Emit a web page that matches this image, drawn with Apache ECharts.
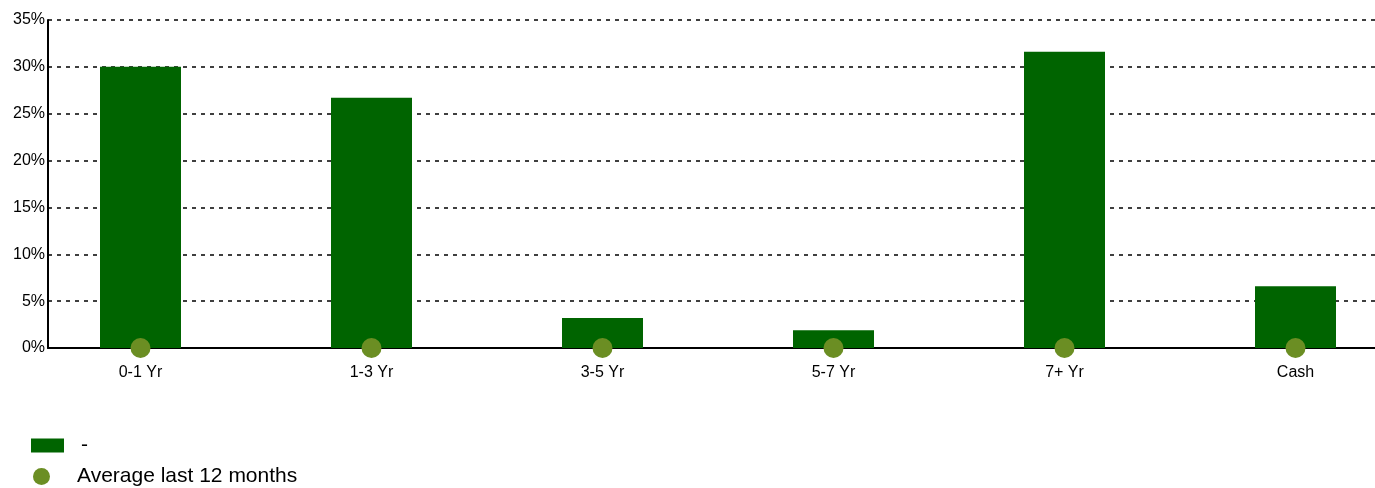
<!DOCTYPE html>
<html>
<head>
<meta charset="utf-8">
<script src="https://cdn.jsdelivr.net/npm/echarts@6/dist/echarts.min.js"></script>
<style>
  html, body { margin: 0; padding: 0; background: #fff; }
  #chart { width: 1375px; height: 488px; }
</style>
</head>
<body>
<div id="chart"></div>
<script>
const categories = ['0-1 Yr', '1-3 Yr', '3-5 Yr', '5-7 Yr', '7+ Yr', 'Cash']
const barValues = [30.0, 26.7, 3.2, 1.9, 31.6, 6.6]
const avgValues = [0, 0, 0, 0, 0, 0]
const barName = '-'
const avgName = 'Average last 12 months'

const chart = echarts.init(document.getElementById('chart'))

const option = {
  animation: false,
  textStyle: { fontFamily: 'Liberation Sans, Arial, sans-serif' },
  // two legends so each row can have its own icon size
  legend: [
    {
      left: 26,
      top: 430,
      itemWidth: 33,
      itemHeight: 14,
      textStyle: { fontSize: 21, color: '#000', padding: [0, 0, 0, 12] },
      data: [{ name: barName, icon: 'rect' }]
    },
    {
      left: 28,
      top: 461,
      itemWidth: 17,
      itemHeight: 17,
      textStyle: { fontSize: 21, color: '#000', padding: [0, 0, 0, 22] },
      data: [{ name: avgName, icon: 'circle' }]
    }
  ],
  grid: [
    // axis frame: y labels, dashed lines, baseline
    { left: 48, right: 0, top: 20, bottom: 140 },
    // marks: categories spaced a bit wider than the frame
    { left: 25, width: 1386, top: 20, bottom: 140, outerBoundsMode: 'none' }
  ],
  xAxis: [
    {
      type: 'category',
      gridIndex: 0,
      data: [''],
      axisLine: { show: true, lineStyle: { color: '#000', width: 2 } },
      axisTick: { show: false },
      axisLabel: { show: false }
    },
    {
      type: 'category',
      gridIndex: 1,
      data: categories,
      axisLine: { show: false },
      axisTick: { show: false },
      axisLabel: { color: '#000', fontSize: 16, margin: 17 }
    }
  ],
  yAxis: [
    {
      type: 'value',
      gridIndex: 0,
      min: 0,
      max: 35,
      interval: 5,
      axisLine: { show: true, lineStyle: { color: '#000', width: 2 } },
      axisTick: { show: false },
      axisLabel: { color: '#000', fontSize: 16, margin: 3, formatter: '{value}%' },
      splitLine: {
        show: true,
        lineStyle: { color: '#000', width: 1.5, type: [4, 5] }
      }
    },
    {
      type: 'value',
      gridIndex: 1,
      min: 0,
      max: 35,
      show: false,
      splitLine: { show: false }
    }
  ],
  series: [
    {
      name: barName,
      type: 'bar',
      xAxisIndex: 1,
      yAxisIndex: 1,
      barWidth: 81,
      itemStyle: { color: '#006400' },
      data: barValues
    },
    {
      name: avgName,
      type: 'scatter',
      xAxisIndex: 1,
      yAxisIndex: 1,
      symbolSize: 20,
      clip: false,
      z: 5,
      itemStyle: { color: '#6b8e23', opacity: 1 },
      data: avgValues
    }
  ]
}

chart.setOption(option)
</script>
</body>
</html>
